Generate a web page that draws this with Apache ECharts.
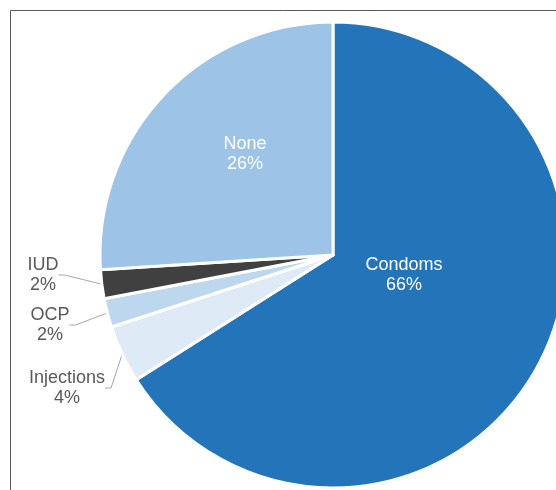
<!DOCTYPE html>
<html>
<head>
<meta charset="utf-8">
<script src="https://cdn.jsdelivr.net/npm/echarts@6/dist/echarts.min.js"></script>
<style>
html,body{margin:0;padding:0;background:#fff;}
#c{width:556px;height:490px;}
</style>
</head>
<body>
<div id="c"></div>
<script>
var categories = ['Condoms', 'Injections', 'OCP', 'IUD', 'None'];
var values = [66, 4, 2, 2, 26];
var sliceColors = ['#2474B9', '#DEEBF7', '#BDD7EE', '#404040', '#9DC3E6'];
var insideLabel = [true, false, false, false, true];
var labelPos = [[404, 275], [67, 388], [50, 325], [43, 275], [245, 154]];

var chart = echarts.init(document.getElementById('c'), null, {renderer: 'canvas'});
var data = categories.map(function (name, i) {
  return {
    name: name,
    value: values[i],
    itemStyle: {color: sliceColors[i]},
    label: insideLabel[i] ? {position: 'inside', color: '#ffffff'} : {position: 'outside', color: '#595959'},
    labelLine: {show: !insideLabel[i], length: 8, length2: 6, lineStyle: {color: '#A6A6A6', width: 1}}
  };
});
chart.setOption({
  animation: false,
  graphic: [{
    type: 'rect',
    shape: {x: 10.5, y: 10.5, width: 700, height: 700},
    style: {fill: 'none', stroke: '#595959', lineWidth: 1}
  }],
  series: [{
    type: 'pie',
    center: [333, 255],
    radius: 233,
    startAngle: 90,
    clockwise: true,
    avoidLabelOverlap: false,
    itemStyle: {borderColor: '#ffffff', borderWidth: 3},
    label: {
      show: true,
      fontFamily: 'Liberation Sans, Arial, sans-serif',
      fontSize: 18,
      lineHeight: 20,
      align: 'center',
      formatter: function (p) { return p.name + '\n' + p.value + '%'; }
    },
    labelLayout: function (params) {
      var p = labelPos[params.dataIndex];
      return {x: p[0], y: p[1], align: 'center', verticalAlign: 'middle'};
    },
    data: data
  }]
});
</script>
</body>
</html>
